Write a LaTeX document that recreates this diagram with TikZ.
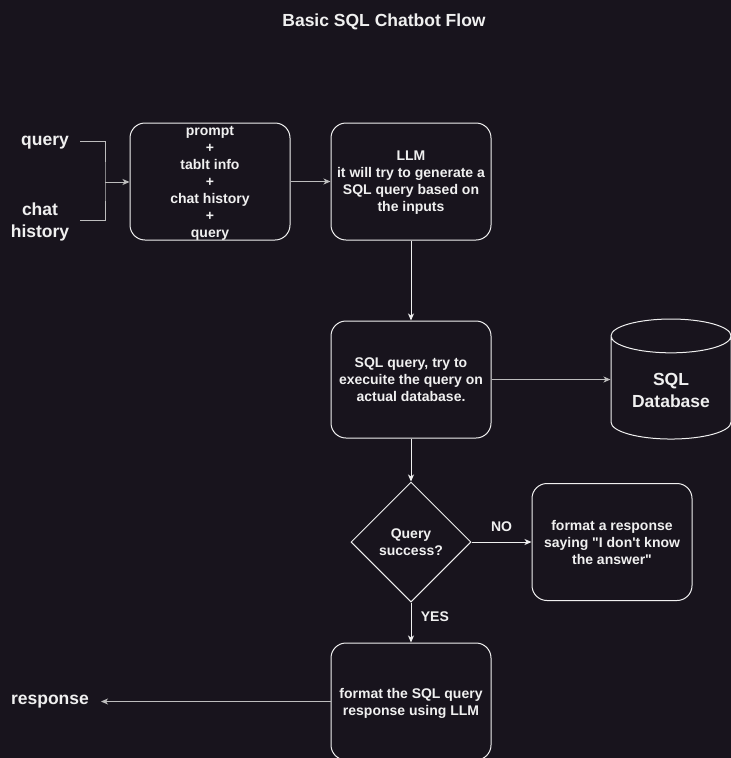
\documentclass[tikz,border=0pt]{standalone}
\usepackage{fontspec}
\setmainfont{Liberation Sans}[Ligatures=TeXOff]
\usepackage{xcolor}
\usetikzlibrary{shapes,shapes.geometric,arrows.meta,positioning,calc}
\definecolor{bgdark}{HTML}{18141D}
\definecolor{edge}{HTML}{F0F0F0}
\definecolor{wire}{HTML}{BDBDBD}
\tikzstyle{line} = [draw, edge, line width=1pt, -{Stealth[length=7pt,width=6pt,inset=2pt]}]
\tikzstyle{grayline} = [line, wire]
\tikzstyle{box} = [rectangle, draw=edge, line width=1pt, rounded corners=15pt, text=edge, align=center, minimum width=160pt, minimum height=117pt, inner sep=2pt, text depth=0pt, font=\bfseries\fontsize{14}{17}\selectfont]
\tikzstyle{decision} = [diamond, draw=edge, line width=1pt, text=edge, align=center, minimum size=120pt, inner sep=0pt, font=\bfseries\fontsize{14}{17}\selectfont]
\tikzstyle{database} = [cylinder, shape border rotate=90, draw=edge, line width=1pt, text=edge, align=center, minimum width=120pt, minimum height=120pt, aspect=0.4, font=\bfseries\fontsize{17.5}{22}\selectfont]
\tikzstyle{tag} = [text=edge, align=center, font=\bfseries\fontsize{17.5}{22}\selectfont]
\tikzstyle{small_tag} = [text=edge, font=\bfseries\fontsize{14}{17}\selectfont]

\begin{document}
\begin{tikzpicture}[x=1pt, y=-1pt]

\fill [bgdark] (0,0) rectangle (731,758);
\useasboundingbox (0,0) rectangle (731,758);

\node [tag] (title) at (384,22) {Basic SQL Chatbot Flow};

\node [box] (prompt) at (210,181.5) {prompt\\+\\tablt info\\+\\chat history\\+\\query};
\node [box, right=40pt of prompt] (llm) {LLM\\it will try to generate a\\SQL query based on\\the inputs};
\node [box, below=80pt of llm] (sql) {SQL query, try to\\execuite the query on\\actual database.};
\node [database] (db) at ($(sql) + (260,11)$) {SQL\\Database};
\node [decision, below=43pt of sql] (check) {Query\\success?};
\node [box, right=60pt of check] (fail) {format a response\\saying "I don't know\\the answer"};
\node [box, below=40pt of check] (answer) {format the SQL query\\response using LLM};

\node [tag] (query) at (45,143) {query};
\node [tag] (history) at (40,222) {chat\\history};
\node [tag] (response) at (50,702) {response};

\coordinate (join) at (105,182);

% inputs into the prompt
\draw [wire, line width=1pt] (80,141) -| (join) |- (80,220);
\path [grayline] (join) -- (join -| prompt.west);

\path [grayline] (prompt) -- (llm);
\path [line] (llm) -- (sql);
\path [grayline] (sql) -- (sql -| db.west);
\path [line] (sql) -- (check);

\path [line] (check) -- (fail) node [small_tag, midway, above=7pt] {NO};
\path [line] (check) -- (answer) node [small_tag, pos=0.35, right=6pt] {YES};

\path [grayline] (answer.west) -- (answer.west -| {(101,0)});

\end{tikzpicture}
\end{document}
